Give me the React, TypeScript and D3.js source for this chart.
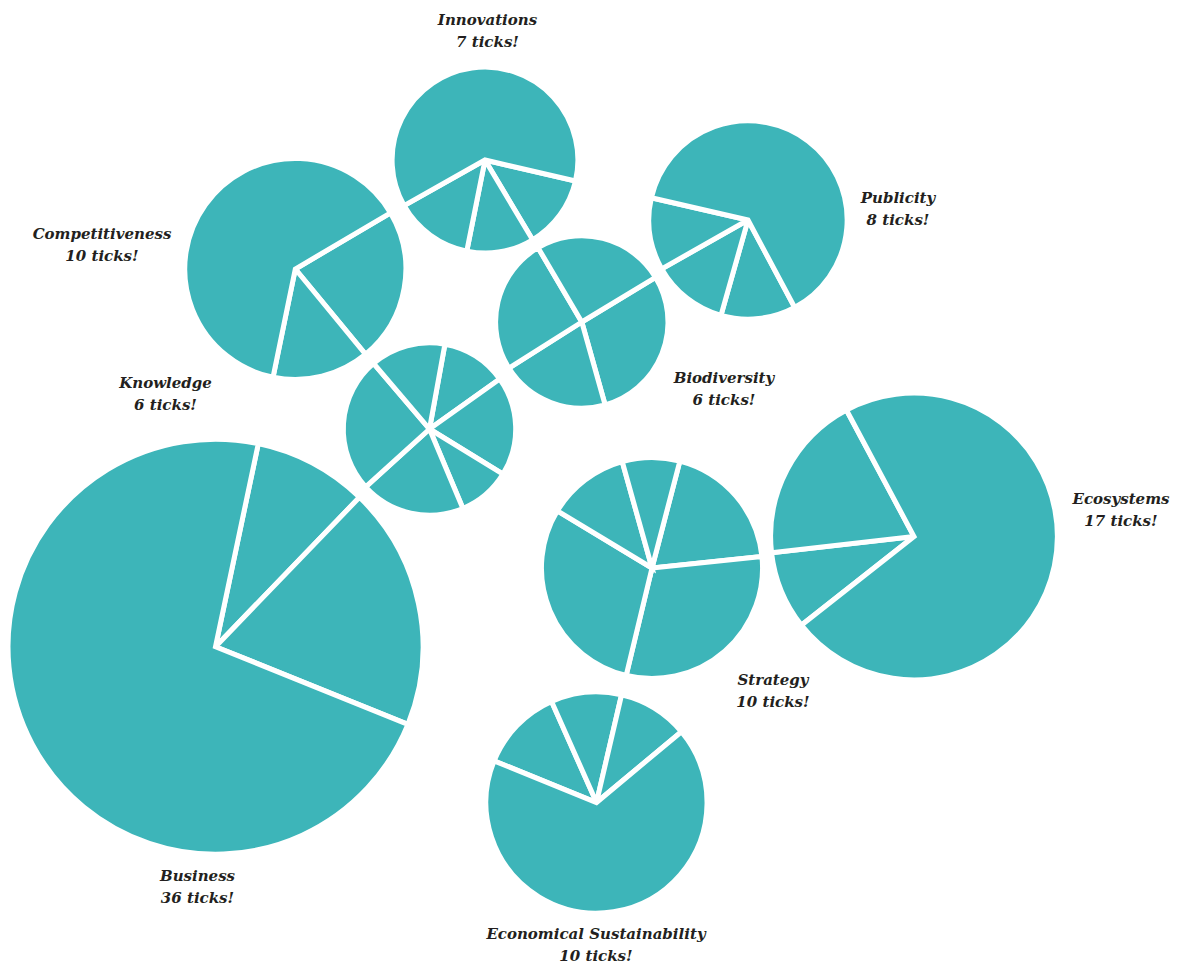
import React from "react";
import * as d3 from "d3";

// Topics and their number of ticks
const categories = [
  "Business",
  "Competitiveness",
  "Innovations",
  "Publicity",
  "Biodiversity",
  "Knowledge",
  "Strategy",
  "Ecosystems",
  "Economical Sustainability",
];
const ticks = [36, 10, 7, 8, 6, 6, 10, 17, 10];

// Slice shares (percent of each pie), in drawing order
const businessSlices = [8.9, 18.9, 72.2];
const competitivenessSlices = [22.5, 14.2, 63.3];
const innovationsSlices = [12.8, 11.7, 13.7, 61.8];
const publicitySlices = [12.2, 12.4, 11.8, 63.6];
const biodiversitySlices = [29.3, 20.4, 25.5, 24.8];
const knowledgeSlices = [12.3, 18.6, 9.9, 19.6, 25.5, 14.1];
const strategySlices = [19.3, 30.4, 29.9, 12.0, 8.4];
const ecosystemsSlices = [8.8, 19.0, 72.2];
const economicalSlices = [12.2, 10.3, 10.3, 67.2];

const slices = [
  businessSlices,
  competitivenessSlices,
  innovationsSlices,
  publicitySlices,
  biodiversitySlices,
  knowledgeSlices,
  strategySlices,
  ecosystemsSlices,
  economicalSlices,
];

// Layout (positions, rotations, label placement)
const centers: [number, number][] = [
  [215.5, 646.7],
  [295.3, 269],
  [485, 160],
  [748, 220],
  [581.8, 322],
  [429.5, 429],
  [652, 568],
  [914, 536.5],
  [596.5, 802.5],
];
const rotations = [11.9, 59.5, 103.1, 151.9, 58.8, 10.3, 14.6, 231.8, 292.1];
const labelPos: [number, number][] = [
  [197.5, 881],
  [102, 239],
  [487.5, 25],
  [898, 203],
  [724, 383],
  [165.5, 388],
  [773, 685],
  [1121, 504],
  [596, 939],
];

const WIDTH = 1179;
const HEIGHT = 965;
const TEAL = "#3db5b9";
const STROKE = 5;

export default function App() {
  const rScale = d3.scaleSqrt().domain([0, 36]).range([0, 205]);

  return (
    <svg
      width={WIDTH}
      height={HEIGHT}
      style={{ position: "absolute", left: 0, top: 0, background: "#fff" }}
    >
      {categories.map((cat, i) => {
        const r = rScale(ticks[i]);
        const start = (rotations[i] * Math.PI) / 180;
        const pie = d3
          .pie<number>()
          .sort(null)
          .value((d) => d)
          .startAngle(start)
          .endAngle(start + 2 * Math.PI);
        const arc = d3
          .arc<d3.PieArcDatum<number>>()
          .innerRadius(0)
          .outerRadius(r + STROKE / 2);
        const [cx, cy] = centers[i];
        return (
          <g key={cat} transform={`translate(${cx},${cy})`}>
            {pie(slices[i]).map((d, j) => (
              <path
                key={j}
                d={arc(d) || ""}
                fill={TEAL}
                stroke="#fff"
                strokeWidth={STROKE}
                strokeLinejoin="miter"
              />
            ))}
          </g>
        );
      })}
      {categories.map((cat, i) => {
        const [lx, ly] = labelPos[i];
        return (
          <text
            key={"l" + cat}
            x={lx}
            y={ly}
            textAnchor="middle"
            fontFamily="'DejaVu Serif', serif"
            fontWeight="bold"
            fontStyle="italic"
            fontSize={15}
            fill="#231f20"
          >
            <tspan x={lx}>{cat}</tspan>
            <tspan x={lx} dy={22}>{`${ticks[i]} ticks!`}</tspan>
          </text>
        );
      })}
    </svg>
  );
}
